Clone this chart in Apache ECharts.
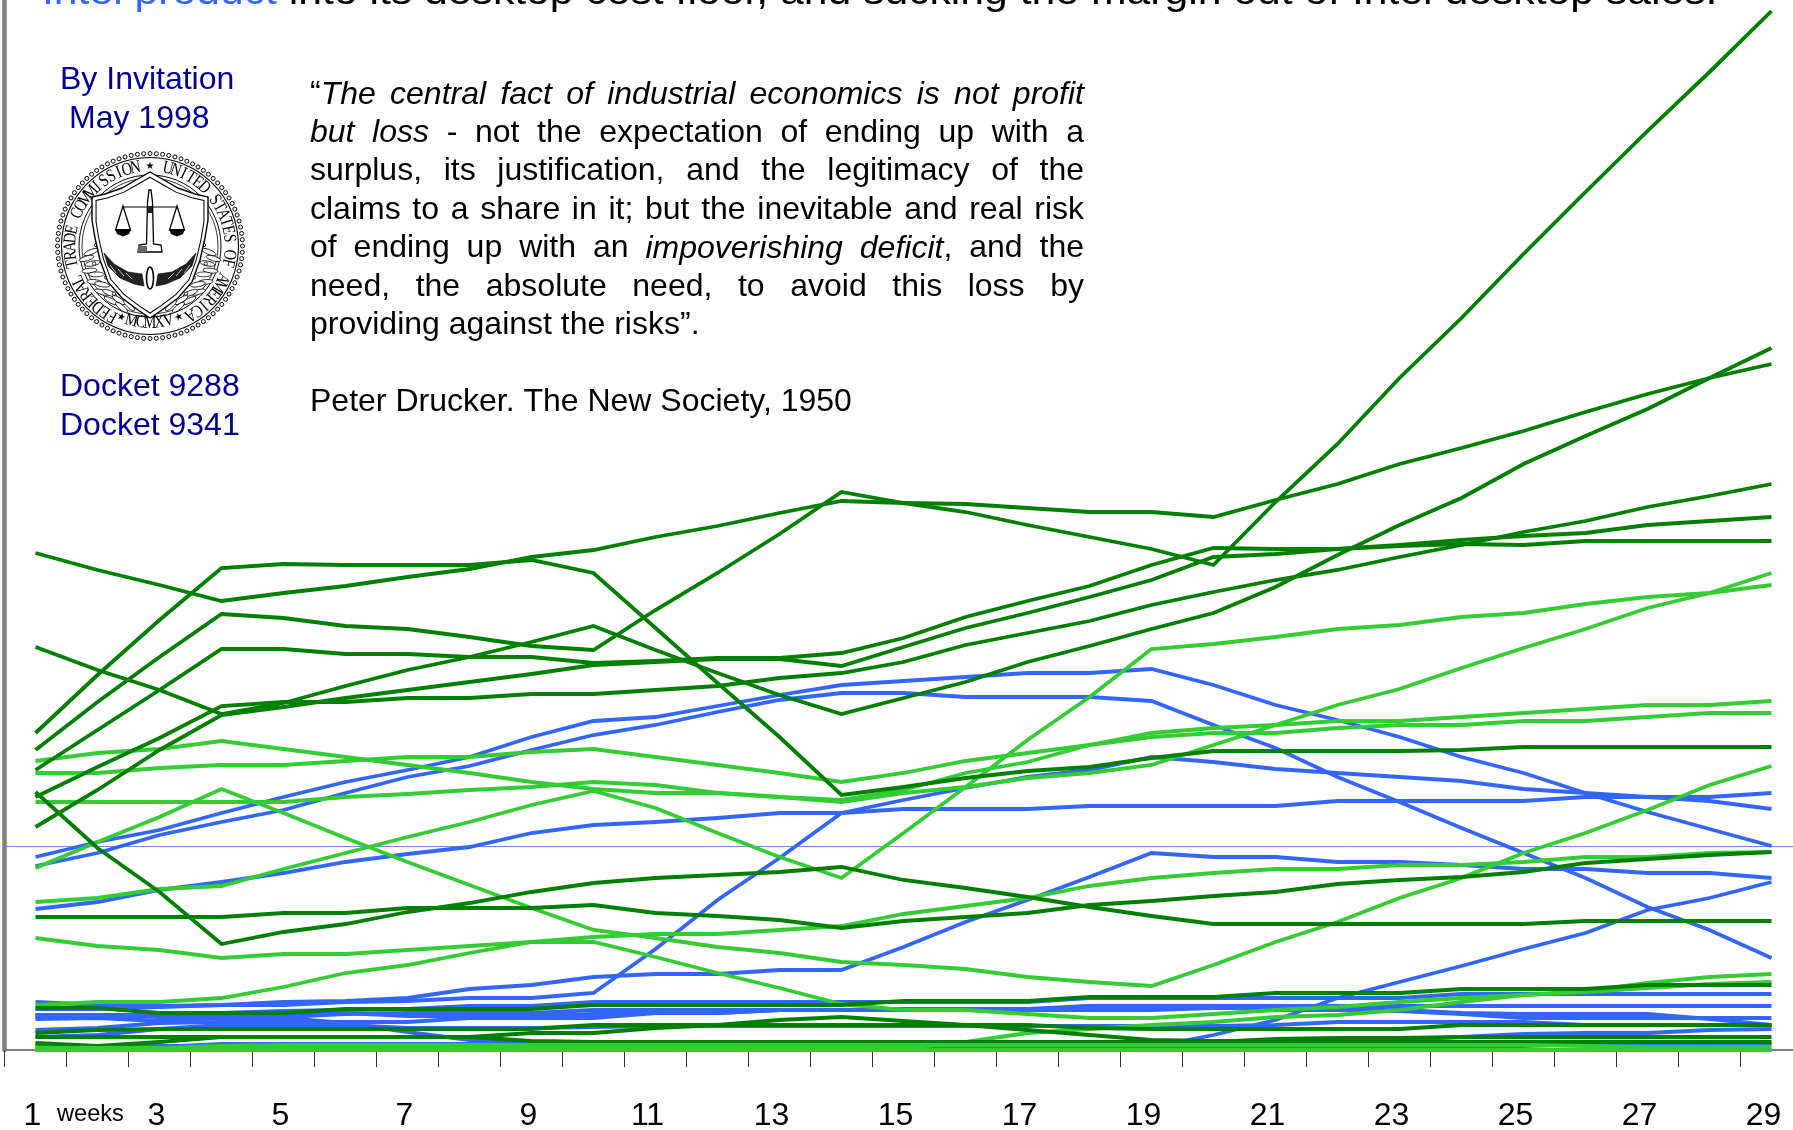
<!DOCTYPE html>
<html><head><meta charset="utf-8"><title>Chart</title>
<style>html,body{margin:0;padding:0;background:#fff}#c{width:1793px;height:1130px}</style>
<script src="https://cdn.jsdelivr.net/npm/echarts@6/dist/echarts.min.js"></script>
</head><body><div id="c"></div>
<script>
const weeks = Array.from({length:29},(_,i)=>String(i+1));

// blue firms
const blue1=[184,197,215,228,240,257,273,284,300,315,325,338,350,357,357,353,353,353,349,325,302,273,248,222,197,172,143,120,92];
const blue2=[193,208,220,237,253,268,280,293,313,329,333,344,355,365,369,373,377,377,381,365,345,330,313,293,277,257,238,221,204];
const blue3=[141,148,160,168,177,188,196,203,217,225,228,232,237,237,241,241,241,244,244,244,244,249,249,249,249,253,253,253,257];
const blue4=[41,41,43,45,45,48,49,52,52,57,101,150,192,237,250,262,273,280,293,288,281,277,273,269,261,257,253,249,241];
const blue5=[48,45,44,45,48,49,52,61,65,73,76,76,80,80,103,128,150,173,197,193,193,188,188,185,181,181,177,177,172];
const blue6=[31,32,29,32,32,27,18,10,7,7,5,5,5,5,5,4,4,3,3,15,30,52,68,84,101,117,140,152,168];
const blue7=[35,35,35,37,39,40,41,44,44,48,48,48,48,48,48,48,48,52,52,52,52,52,52,56,56,56,56,56,56];
const blue8=[35,35,33,33,33,36,37,37,37,40,40,40,40,40,41,41,41,44,44,44,44,44,44,44,44,44,44,44,44];
const blue9=[20,22,27,28,28,28,28,32,32,32,37,37,40,40,40,40,40,44,44,43,40,40,39,36,32,32,32,32,32];
const blue10=[13,15,21,25,25,25,22,22,22,23,24,24,24,24,24,24,24,24,24,24,25,28,28,28,28,25,25,25,25];
const blue11=[0,0,3,6,6,6,6,6,6,6,6,6,6,6,6,6,6,6,6,6,7,8,10,13,16,17,17,20,21];
const blue12=[33,33,35,37,37,37,34,34,34,36,37,37,40,40,40,40,40,40,40,42,42,40,40,37,36,36,36,31,25];
const blue13=[4,4,4,4,4,4,4,4,4,4,4,4,4,4,4,4,4,4,4,4,4,4,4,4,4,6,6,6,6];

// bright green firms
const lime1=[289,297,301,309,301,293,285,277,268,261,257,257,253,250,260,277,288,305,317,322,325,329,329,333,337,341,345,345,349];
const lime2=[277,277,282,285,285,289,293,293,298,301,293,285,277,268,277,289,297,305,313,317,317,322,325,325,329,329,333,337,337];
const lime3=[248,248,248,248,248,253,256,260,263,268,265,257,253,248,257,263,272,277,285,305,325,345,361,382,402,421,442,457,477];
const lime4=[182,208,233,261,237,212,188,165,142,120,112,103,97,88,85,81,73,68,64,85,108,128,152,172,197,217,240,265,284];
const lime5=[148,152,161,164,181,197,213,228,245,259,242,217,193,172,217,263,310,353,401,406,413,421,425,433,437,446,453,457,465];
const lime6=[112,104,100,92,96,96,100,104,108,108,93,77,62,46,40,40,36,32,32,36,40,43,48,52,55,58,62,66,68];
const lime7=[45,48,48,52,63,77,85,97,108,113,116,116,120,124,136,144,152,164,172,177,181,181,185,185,188,193,193,197,198];
const lime8=[2,2,2,2,2,2,2,2,2,2,2,2,2,2,2,8,17,21,25,28,33,35,40,48,55,59,67,73,76];
const lime9=[2,2,2,4,5,5,5,5,5,5,5,5,5,5,5,5,5,5,5,5,5,5,5,5,5,4,3,3,3];
const lime10=[0,0,0,0,0,0,0,0,0,0,0,0,0,0,0,0,0,0,0,0,0,0,0,0,0,0,0,0,0];

// dark green firms
const dark1=[317,375,430,482,486,485,485,485,490,477,422,367,313,255,263,272,279,283,292,299,299,299,299,300,303,303,303,303,303];
const dark2=[497,480,465,449,457,464,473,481,493,500,513,524,537,549,547,546,542,538,538,533,550,566,586,602,619,638,656,672,686];
const dark3=[300,348,393,436,432,424,421,413,404,400,440,477,516,558,547,538,525,513,501,485,548,606,672,732,796,858,919,978,1039];
const dark4=[280,320,360,401,401,396,396,393,393,387,389,392,392,397,412,433,449,464,485,502,501,501,504,506,505,509,509,509,509];
const dark5=[403,380,360,336,347,364,380,393,408,424,400,377,355,336,352,368,388,404,421,437,463,495,525,552,586,614,641,672,702];
const dark6=[253,283,312,344,348,348,352,352,356,356,360,364,372,377,388,405,417,429,445,458,470,480,493,505,518,529,543,554,566];
const dark7=[223,260,300,335,343,352,360,368,376,385,388,391,391,384,403,422,437,453,470,493,496,501,505,510,514,517,525,529,533];
const dark8=[258,202,158,106,118,126,138,147,158,167,172,175,178,183,170,162,153,143,134,126,126,126,126,126,126,129,129,129,129];
const dark9=[133,133,133,133,137,137,142,142,142,145,137,134,130,122,129,133,137,145,149,154,158,166,170,173,178,187,191,195,198];
const dark10=[42,42,37,37,37,41,41,41,41,45,45,45,45,45,49,49,49,53,53,53,57,57,57,61,61,61,65,65,65];
const dark11=[17,20,21,21,21,21,21,21,21,25,25,25,25,25,25,25,25,22,21,21,21,21,21,25,25,25,25,25,25];
const dark12=[7,4,8,13,13,13,13,13,17,17,22,25,30,33,29,25,20,15,10,9,9,9,8,8,8,8,8,8,8];
const dark13=[13,13,13,13,13,13,13,13,9,8,8,8,8,8,8,8,8,8,8,8,11,12,12,13,13,13,13,13,13];

const referenceLevel = 204;

const blueSeries=[blue1,blue2,blue3,blue4,blue5,blue6,blue7,blue8,blue9,blue10,blue11,blue12,blue13];
const limeSeries=[lime1,lime2,lime3,lime4,lime5,lime6,lime7,lime8];
const darkSeries=[dark1,dark2,dark3,dark4,dark5,dark6,dark7,dark8,dark9,dark10,dark11,dark12,dark13];
const limeBase=[lime9,lime10];

const BLUE='#3366FF',DARK='#008000',LIME='#33CC33',NAVY='#000099';
const SANS='"Liberation Sans",Arial,sans-serif';

const titleRuns=[['Intel product',BLUE],[' into its desktop cost floor, and sucking the margin out of Intel desktop sales.','#000']];
const quoteLines=[
 '“*The* *central* *fact* *of* *industrial* *economics* *is* *not* *profit*',
 '*but* *loss* - not the expectation of ending up with a',
 'surplus, its justification, and the legitimacy of the',
 'claims to a share in it; but the inevitable and real risk',
 'of ending up with an *impoverishing* *deficit*, and the',
 'need, the absolute need, to avoid this loss by',
 'providing against the risks”.'];
const attribution='Peter Drucker. The New Society, 1950';
const sideNotes=[['By Invitation',60,80],['May 1998',69,119],['Docket 9288',60,387],['Docket 9341',60,426]];
const sealTop='UNITED STATES OF AMERICA';
const sealLeft='FEDERAL TRADE COMMISSION';
const sealBottom='MCMXV';

function line(data,color,z,name){
  return {type:'line',name,data,symbol:'none',smooth:false,clip:false,z,animation:false,silent:true,
    lineStyle:{color,width:3.8,cap:'butt',join:'miter'}};
}
const series=[];
blueSeries.forEach((d,i)=>series.push(line(d,BLUE,2,'blue'+(i+1))));
limeSeries.forEach((d,i)=>series.push(line(d,LIME,3,'lime'+(i+1))));
darkSeries.forEach((d,i)=>series.push(line(d,DARK,4,'dark'+(i+1))));
limeBase.forEach((d,i)=>series.push(line(d,LIME,5,'limeBase'+(i+1))));
series[0].markLine={silent:true,symbol:'none',animation:false,label:{show:false},z:1,
  lineStyle:{color:'#6a8ee6',width:1,type:'solid'},data:[{yAxis:referenceLevel}]};

// text helpers
const mc=document.createElement('canvas').getContext('2d');
const tw=(s,font)=>{mc.font=font;return mc.measureText(s).width;};
const QF='32px '+SANS, QI='italic 32px '+SANS;
const els=[];
const txt=(text,x,y,font,fill,extra)=>els.push(Object.assign({type:'text',x,y,silent:true,
  style:{text,font,fill,align:'left',verticalAlign:'middle'}},extra||{}));

// title, clipped by the top of the page
(function(){let x=42;const f='38.4px '+SANS,sx=1.112;titleRuns.forEach(r=>{txt(r[0],x,-6.8,f,r[1],{scaleX:sx});x+=tw(r[0],f)*sx;});})();
sideNotes.forEach(n=>txt(n[0],n[1],n[2],QF,NAVY));

// justified quote
function runs(w){const o=[];w.replace(/\*([^*]+)\*|([^*]+)/g,(m,a,b)=>{o.push(a?[a,QI]:[b,QF]);return m;});return o;}
const qLeft=310,qRight=1084,qTop=94.6,qStep=38.5;
quoteLines.forEach((l,i)=>{
  const words=l.split(' ').map(runs);
  const widths=words.map(r=>r.reduce((s,p)=>s+tw(p[0],p[1]),0));
  const total=widths.reduce((a,b)=>a+b,0);
  const space=i===quoteLines.length-1?tw(' ',QF):(qRight-qLeft-total)/(words.length-1);
  let x=qLeft;
  words.forEach((r,j)=>{let xx=x;r.forEach(p=>{txt(p[0],xx,qTop+i*qStep,p[1],'#000');xx+=tw(p[0],p[1]);});x+=widths[j]+space;});
});
txt(attribution,310,402,QF,'#000');
txt('weeks',57,1114,'23.6px '+SANS,'#000');

// the seal
(function(){
 const k=[],c=[];const S='#000';const cx=150,cy=246;
 const ell=(rx,ry,lw,fill)=>k.push({type:'ellipse',shape:{cx:0,cy:0,rx,ry},style:{fill:fill||'none',stroke:S,lineWidth:lw}});
 ell(88.5,88.5,1.1);ell(71,71,1);ell(68,68,.8);
 for(let i=0;i<92;i++){const a=i/92*Math.PI*2;k.push({type:'circle',shape:{cx:92.5*Math.cos(a),cy:92.5*Math.sin(a),r:2},style:{fill:'#fff',stroke:S,lineWidth:1}});}
 const letter=(ch,deg,flip,font,sx)=>{const a=deg*Math.PI/180;const R=flip?77:79.5;
   k.push({type:'text',x:R*Math.sin(a),y:-R*Math.cos(a),scaleX:sx||.8,rotation:flip?-(deg-180)*Math.PI/180:-a,
     style:{text:ch,font:font||'18px "Liberation Serif",serif',fill:S,align:'center',verticalAlign:'middle'}});};
 [...sealTop].forEach((ch,i)=>{if(ch!==' ')letter(ch,13+i*5.95,false);});
 [...sealLeft].forEach((ch,i)=>{if(ch!==' ')letter(ch,208+i*6.15,false);});
 [...sealBottom].forEach((ch,i)=>letter(ch,194-i*7,true));
 letter('★',0,false,'10px "DejaVu Sans"',1);letter('★',158,true,'10px "DejaVu Sans"',1);letter('★',202,true,'10px "DejaVu Sans"',1);
 // laurel leaves
 for(let s=-1;s<=1;s+=2){for(let t=0;t<13;t++){const a=(92+t*5.6)*Math.PI/180;const r=59+(t%2)*5;
   k.push({type:'ellipse',x:s*r*Math.sin(a),y:-r*Math.cos(a)+4,rotation:s*(a-2),shape:{cx:0,cy:0,rx:7.5,ry:2.4},style:{fill:'#fff',stroke:S,lineWidth:.8}});
   if(t%3===0)k.push({type:'circle',x:s*(r-5)*Math.sin(a),y:-r*Math.cos(a)-3,shape:{cx:0,cy:0,r:1.7},style:{fill:'#fff',stroke:S,lineWidth:.8}});}}
 // shield
 const half=[[0,-68],[-14,-60],[-28,-52],[-45,-46],[-58,-43],[-58,-20],[-55,-2],[-50,20],[-42,42],[-28,58],[-12,70],[0,78]];
 const sh=half.concat(half.slice(1,-1).reverse().map(p=>[-p[0],p[1]]));
 c.push({type:'polygon',shape:{points:sh},style:{fill:'#fff',stroke:S,lineWidth:1.4}});
 c.push({type:'polygon',scaleX:.93,scaleY:.93,y:.5,shape:{points:sh},style:{fill:'#fff',stroke:S,lineWidth:1.1}});
 // scales
 c.push({type:'polygon',shape:{points:[[-1,-50],[1,-50],[2.5,-38],[3.5,4],[11,5],[12,12],[-12,12],[-11,5],[-3.5,4],[-2.5,-38]]},style:{fill:'#fff',stroke:S,lineWidth:1.3}});
 c.push({type:'rect',shape:{x:-12,y:6,width:9,height:6},style:{fill:'#666'}});
 c.push({type:'line',shape:{x1:-27,y1:-33,x2:27,y2:-33},style:{stroke:S,lineWidth:1.2}});
 c.push({type:'rect',shape:{x:-2,y:-34,width:4,height:7},style:{fill:'#222'}});
 for(let s=-1;s<=1;s+=2){
  c.push({type:'polygon',shape:{points:[[s*27,-34],[s*34.5,-10],[s*19.5,-10]]},style:{fill:'#fff',stroke:S,lineWidth:1.3}});
  c.push({type:'polygon',shape:{points:[[s*35,-11],[s*19,-11],[s*21,-6],[s*27,-3.5],[s*33,-6]]},style:{fill:S}});
  // wings
  c.push({type:'polygon',shape:{points:[[s*46,13],[s*36,24],[s*22,32],[s*8,34],[s*6,46],[s*16,44],[s*30,38],[s*42,26]]},style:{fill:'#222',stroke:S,lineWidth:.6}});
  for(let w=0;w<3;w++)c.push({type:'line',shape:{x1:s*(40-w*8),y1:25+w*4,x2:s*(34-w*8),y2:33+w*3},style:{stroke:'#fff',lineWidth:.7}});
 }
 c.push({type:'ellipse',y:38,shape:{cx:0,cy:0,rx:3.5,ry:11},style:{fill:'#fff',stroke:S,lineWidth:1.6}});
 k.push({type:'group',y:-6,children:c});
 els.push({type:'group',x:cx,y:cy,silent:true,children:k});
})();

const chart=echarts.init(document.getElementById('c'),null,{renderer:'canvas'});
chart.setOption({
  animation:false,backgroundColor:'#fff',
  grid:{left:4.5,top:0,width:1798,height:1050,containLabel:false,outerBoundsMode:'none'},
  xAxis:{type:'category',data:weeks,boundaryGap:true,
    axisLine:{show:true,lineStyle:{color:'#808080',width:2}},
    axisTick:{show:true,interval:0,length:17,lineStyle:{color:'#333',width:1}},
    axisLabel:{interval:1,margin:50,fontFamily:SANS,fontSize:32,color:'#000',
      formatter:v=>v.length>1?'{b|'+v+'}':'{a|'+v+'}',
      rich:{a:{fontFamily:SANS,fontSize:32,color:'#000',padding:[0,6,0,0]},b:{fontFamily:SANS,fontSize:32,color:'#000',padding:[0,16,0,0]}}}},
  yAxis:{type:'value',min:0,max:1050,interval:150,splitLine:{show:false},axisTick:{show:false},axisLabel:{show:false},
    axisLine:{show:true,onZero:false,lineStyle:{color:'#808080',width:4.5}}},
  series,
  graphic:{elements:els}
});
</script></body></html>
